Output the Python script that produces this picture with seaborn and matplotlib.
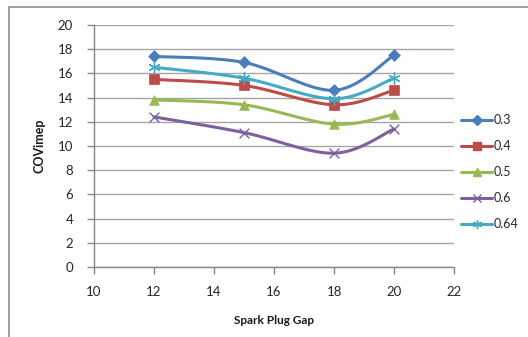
import numpy as np
import pandas as pd
import matplotlib
matplotlib.use("Agg")
import matplotlib.pyplot as plt
from matplotlib.patches import Rectangle
import seaborn as sns

# Spark plug gap settings and COVimep readings per series
gap = [12, 15, 18, 20]
series_names = ["0.3", "0.4", "0.5", "0.6", "0.64"]
cov_03 = [17.4, 16.9, 14.6, 17.5]
cov_04 = [15.5, 15.0, 13.4, 14.6]
cov_05 = [13.8, 13.4, 11.8, 12.6]
cov_06 = [12.4, 11.1, 9.4, 11.4]
cov_064 = [16.5, 15.6, 13.9, 15.6]

x_ticks = [10, 12, 14, 16, 18, 20, 22]
y_ticks = [0, 2, 4, 6, 8, 10, 12, 14, 16, 18, 20]

colors = ["#4A7EBB", "#BE4B48", "#98B954", "#7D60A0", "#46AAC5"]
markers = ["D", "s", "^", "x", (6, 2, 0)]
msizes = [6, 7.5, 7, 7, 8]

sns.set_theme(style="white")
plt.rcParams["font.family"] = ["Lato", "DejaVu Sans"]


def smooth(xs, ys, n=40):
    """Bezier smoothing through the points (tangent = neighbour difference / 6)."""
    p = np.column_stack([xs, ys]).astype(float)
    k = len(p)
    out = []
    for i in range(k - 1):
        p0 = p[i - 1] if i > 0 else p[i]
        p3 = p[i + 2] if i + 2 < k else p[i + 1]
        c1 = p[i] + (p[i + 1] - p0) / 6.0
        c2 = p[i + 1] - (p3 - p[i]) / 6.0
        t = np.linspace(0, 1, n)[:, None]
        seg = ((1 - t) ** 3) * p[i] + 3 * ((1 - t) ** 2) * t * c1 + 3 * (1 - t) * t ** 2 * c2 + t ** 3 * p[i + 1]
        out.append(seg if i == 0 else seg[1:])
    s = np.vstack(out)
    return s[:, 0], s[:, 1]


fig = plt.figure(figsize=(5.28, 3.37), dpi=100)
ax = fig.add_axes([0.178, 0.208, 0.682, 0.718])

all_vals = [cov_03, cov_04, cov_05, cov_06, cov_064]
for name, vals, c, m, ms in zip(series_names, all_vals, colors, markers, msizes):
    sx, sy = smooth(gap, vals)
    curve = pd.DataFrame({"gap": sx, "cov": sy})
    sns.lineplot(data=curve, x="gap", y="cov", sort=False, color=c, lw=2.2, ax=ax)
    pts = pd.DataFrame({"gap": gap, "cov": vals})
    if m in ("x", (6, 2, 0)):
        sns.scatterplot(data=pts, x="gap", y="cov", marker=m, s=ms ** 2, color=c,
                        linewidth=1.0, ax=ax, zorder=5)
    else:
        sns.scatterplot(data=pts, x="gap", y="cov", marker=m, s=ms ** 2, color=c,
                        edgecolor=c, linewidth=0.5, ax=ax, zorder=5)
    # legend proxy
    ax.plot([], [], color=c, lw=2.2, marker=m, ms=ms * 0.8, mew=1.0, label=name)

ax.set_xlim(10, 22)
ax.set_ylim(0, 20)
ax.set_xticks(x_ticks)
ax.set_yticks(y_ticks)
ax.yaxis.grid(True, color="#A6A6A6", lw=1.0)
ax.xaxis.grid(False)
for side in ("top", "right"):
    ax.spines[side].set_visible(False)
for side in ("left", "bottom"):
    ax.spines[side].set_color("#868686")
    ax.spines[side].set_linewidth(1.0)
ax.tick_params(axis="both", which="major", direction="out", length=5, width=1.0,
               color="#868686", labelsize=9.5, labelcolor="#262626",
               bottom=True, left=True)
ax.tick_params(axis="x", pad=9)
ax.tick_params(axis="y", pad=10)
ax.set_xlabel("Spark Plug Gap", fontsize=8.5, fontweight="bold", labelpad=12, color="#1a1a1a")
ax.set_ylabel("COVimep", fontsize=9, fontweight="bold", labelpad=9, color="#1a1a1a")

leg = ax.legend(loc="upper left", bbox_to_anchor=(1.005, 0.652), frameon=False,
                fontsize=9, handlelength=2.5, labelspacing=1.12, handletextpad=0.1,
                borderaxespad=0)
for t in leg.get_texts():
    t.set_color("#262626")

# chart area border
fig.patches.append(Rectangle((9 / 528, -0.05), 1.1, 1 - 7 / 337 + 0.05, transform=fig.transFigure,
                             fill=False, edgecolor="#8c8c8c", lw=1.2))

fig.savefig("out.png", dpi=100)
